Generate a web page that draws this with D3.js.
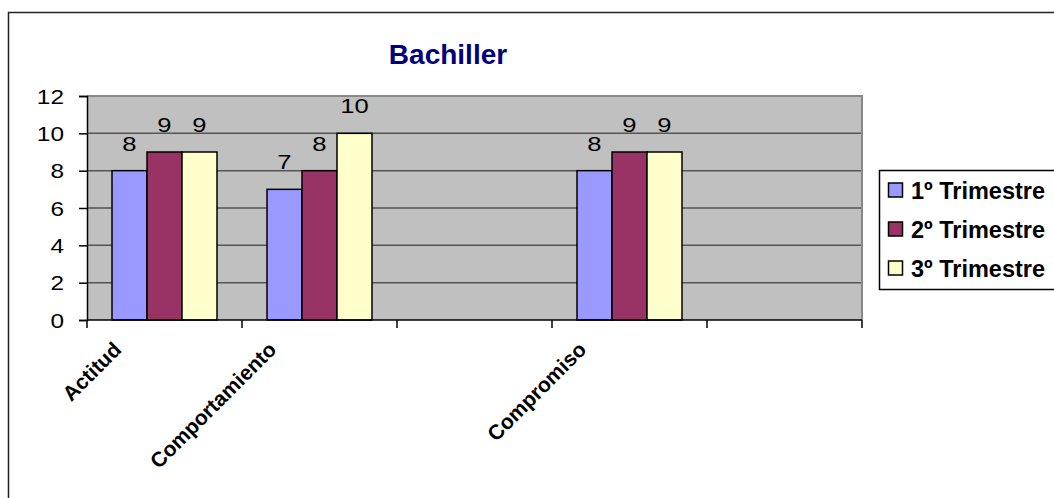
<!DOCTYPE html>
<html>
<head>
<meta charset="utf-8">
<script src="https://cdn.jsdelivr.net/npm/d3@7"></script>
<style>
  html, body { margin: 0; padding: 0; background: #fff; }
  svg { display: block; font-family: Arial, "Liberation Sans", sans-serif; }
</style>
</head>
<body>
<svg id="chart" width="1054" height="498"></svg>
<script>
const categories = ["Actitud", "Comportamiento", "", "Compromiso", ""];
const seriesNames = ["1º Trimestre", "2º Trimestre", "3º Trimestre"];
const trimestre1 = [8, 7, null, 8, null];
const trimestre2 = [9, 8, null, 9, null];
const trimestre3 = [9, 10, null, 9, null];
const yTicks = [0, 2, 4, 6, 8, 10, 12];
const colors = ["#9999FF", "#993366", "#FFFFCC"];
const titleText = "Bachiller";

const seriesValues = [trimestre1, trimestre2, trimestre3];
const svg = d3.select("#chart");

const plot = { left: 87, right: 862, top: 96, bottom: 320 };
const stretch = 1.22;

// Outer chart border
svg.append("rect")
  .attr("x", 8.5).attr("y", 12.5)
  .attr("width", 1100).attr("height", 600)
  .attr("fill", "#fff").attr("stroke", "#222").attr("stroke-width", 1.5);

// Title
svg.append("text")
  .attr("x", 448).attr("y", 64)
  .attr("text-anchor", "middle")
  .attr("font-size", 28).attr("font-weight", "bold")
  .attr("fill", "#000080")
  .text(titleText);

const idx = categories.map((d, i) => i);
const x = d3.scaleBand().domain(idx).range([plot.left, plot.right]).padding(0);
const xInner = d3.scaleBand().domain(d3.range(seriesNames.length))
  .range([0, x.bandwidth()]).paddingInner(0).paddingOuter(25 / 35);
const y = d3.scaleLinear().domain([0, 12]).range([plot.bottom, plot.top]);

// Plot area background
svg.append("rect")
  .attr("x", plot.left).attr("y", plot.top)
  .attr("width", plot.right - plot.left).attr("height", plot.bottom - plot.top)
  .attr("fill", "#C0C0C0");

// Gridlines
svg.append("g").selectAll("line")
  .data(yTicks.filter(t => t > 0 && t < 12))
  .join("line")
  .attr("x1", plot.left).attr("x2", plot.right)
  .attr("y1", d => y(d)).attr("y2", d => y(d))
  .attr("stroke", "#555").attr("stroke-width", 1.5);

// Plot border top/right
svg.append("path")
  .attr("d", `M${plot.left},${plot.top}H${plot.right}V${plot.bottom}`)
  .attr("fill", "none").attr("stroke", "#888").attr("stroke-width", 2);

// Bars
const barData = [];
seriesValues.forEach((vals, s) => {
  vals.forEach((v, i) => { if (v != null) barData.push({ s, i, v }); });
});

svg.append("g").selectAll("rect")
  .data(barData)
  .join("rect")
  .attr("x", d => x(d.i) + xInner(d.s))
  .attr("y", d => y(d.v))
  .attr("width", xInner.bandwidth())
  .attr("height", d => y(0) - y(d.v))
  .attr("fill", d => colors[d.s])
  .attr("stroke", "#000").attr("stroke-width", 1.5);

// Data labels
svg.append("g").selectAll("text")
  .data(barData)
  .join("text")
  .attr("transform", d => `translate(${x(d.i) + xInner(d.s) + xInner.bandwidth() / 2},${y(d.v) - 20}) scale(${stretch},1)`)
  .attr("text-anchor", "middle")
  .attr("font-size", 21)
  .attr("fill", "#000")
  .text(d => d.v);

// Y axis
const yAxis = d3.axisLeft(y).tickValues(yTicks).tickSize(8).tickPadding(0);
const gy = svg.append("g").attr("transform", `translate(${plot.left},0)`).call(yAxis);
gy.select(".domain").attr("stroke", "#000").attr("stroke-width", 1.5);
gy.selectAll(".tick line").attr("stroke", "#000").attr("stroke-width", 1.5);
gy.selectAll(".tick text")
  .attr("font-size", 20).attr("fill", "#000")
  .attr("font-family", "Arial, 'Liberation Sans', sans-serif")
  .attr("x", null).attr("dy", null)
  .attr("transform", `translate(-23,7) scale(${stretch},1)`);

// X axis line and ticks at category boundaries
const boundaries = idx.map(i => x(i)).concat([plot.right]);
svg.append("line")
  .attr("x1", plot.left).attr("x2", plot.right)
  .attr("y1", plot.bottom).attr("y2", plot.bottom)
  .attr("stroke", "#000").attr("stroke-width", 1.5);
svg.append("g").selectAll("line")
  .data(boundaries)
  .join("line")
  .attr("x1", d => d).attr("x2", d => d)
  .attr("y1", plot.bottom).attr("y2", plot.bottom + 8)
  .attr("stroke", "#000").attr("stroke-width", 1.5);

// Category labels (rotated)
svg.append("g").selectAll("text")
  .data(idx.filter(i => categories[i] !== ""))
  .join("text")
  .attr("transform", d => `translate(${x(d) + x.bandwidth() / 2 - 42},351) rotate(-45)`)
  .attr("text-anchor", "end")
  .attr("font-size", 21).attr("font-weight", "bold")
  .attr("fill", "#000")
  .text(d => categories[d]);

// Legend
const legend = svg.append("g");
legend.append("rect")
  .attr("x", 879.5).attr("y", 170.5)
  .attr("width", 200).attr("height", 119)
  .attr("fill", "#fff").attr("stroke", "#000").attr("stroke-width", 1.5);
const rows = legend.selectAll("g.row")
  .data(seriesNames)
  .join("g").attr("class", "row")
  .attr("transform", (d, i) => `translate(888,${190 + i * 39})`);
rows.append("rect")
  .attr("x", 0.5).attr("y", -7)
  .attr("width", 14).attr("height", 14)
  .attr("fill", (d, i) => colors[i])
  .attr("stroke", "#000").attr("stroke-width", 1.5);
rows.append("text")
  .attr("x", 23).attr("y", 8.5)
  .attr("font-size", 23.5).attr("font-weight", "bold")
  .attr("fill", "#000")
  .text(d => d);
</script>
</body>
</html>
